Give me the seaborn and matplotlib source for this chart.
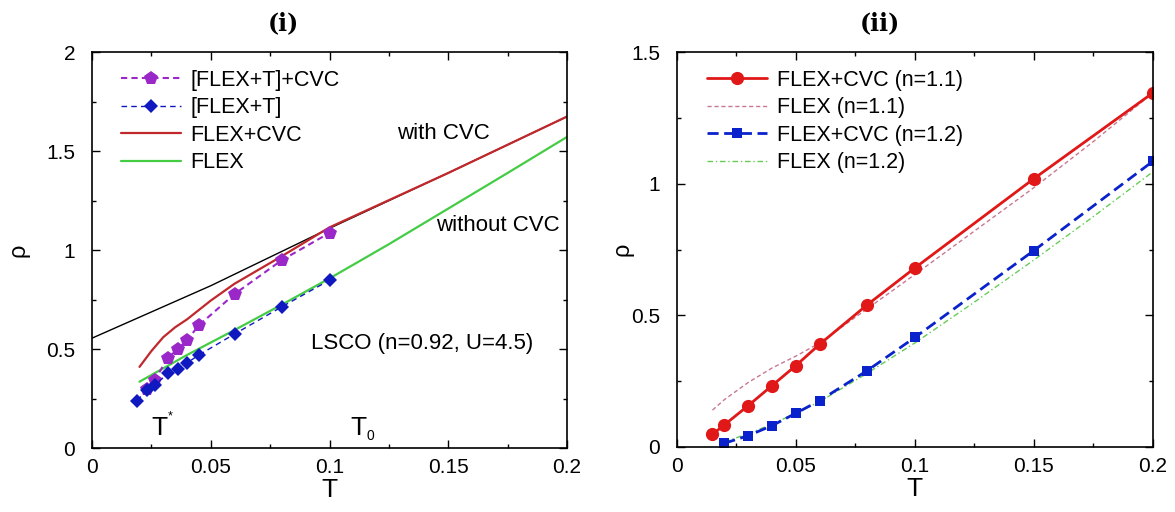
import numpy as np
import pandas as pd
import seaborn as sns
import matplotlib
matplotlib.use("Agg")
import matplotlib.pyplot as plt
from matplotlib.ticker import MultipleLocator

# ---------------- data: panel (i) ----------------
t_flexT_cvc = [0.023, 0.0265, 0.032, 0.036, 0.04, 0.045, 0.06, 0.08, 0.1]
rho_flexT_cvc = [0.30, 0.345, 0.456, 0.498, 0.545, 0.62, 0.778, 0.95, 1.087]

t_flexT = [0.019, 0.023, 0.0265, 0.032, 0.036, 0.04, 0.045, 0.06, 0.08, 0.1]
rho_flexT = [0.239, 0.293, 0.318, 0.377, 0.40, 0.43, 0.47, 0.576, 0.714, 0.848]

t_flex_cvc = [0.02, 0.025, 0.03, 0.035, 0.04, 0.05, 0.06, 0.08, 0.1, 0.12, 0.15, 0.2]
rho_flex_cvc = [0.41, 0.49, 0.56, 0.61, 0.65, 0.745, 0.83, 0.97, 1.115, 1.225, 1.39, 1.675]

t_flex = [0.02, 0.04, 0.06, 0.08, 0.1, 0.125, 0.15, 0.175, 0.2]
rho_flex = [0.335, 0.47, 0.596, 0.725, 0.857, 1.03, 1.21, 1.39, 1.572]

t_withcvc = [0.0, 0.05, 0.1, 0.15, 0.2]
rho_withcvc = [0.555, 0.82, 1.11, 1.39, 1.675]

# ---------------- data: panel (ii) ----------------
t_cvc11 = [0.015, 0.02, 0.03, 0.04, 0.05, 0.06, 0.08, 0.1, 0.15, 0.2]
rho_cvc11 = [0.048, 0.084, 0.157, 0.233, 0.309, 0.39, 0.54, 0.68, 1.019, 1.345]

t_flex11 = [0.015, 0.02, 0.03, 0.04, 0.05, 0.06, 0.08, 0.1, 0.125, 0.15, 0.175, 0.2]
rho_flex11 = [0.14, 0.18, 0.245, 0.30, 0.345, 0.395, 0.525, 0.655, 0.82, 0.985, 1.16, 1.345]

t_cvc12 = [0.02, 0.03, 0.04, 0.05, 0.06, 0.08, 0.1, 0.15, 0.2]
rho_cvc12 = [0.014, 0.043, 0.081, 0.128, 0.176, 0.29, 0.416, 0.746, 1.085]

t_flex12 = [0.02, 0.03, 0.04, 0.05, 0.06, 0.08, 0.1, 0.125, 0.15, 0.175, 0.2]
rho_flex12 = [0.02, 0.05, 0.087, 0.128, 0.172, 0.28, 0.395, 0.55, 0.71, 0.875, 1.045]

x_ticks = [0, 0.05, 0.1, 0.15, 0.2]
x_ticklabels = ['0', '0.05', '0.1', '0.15', '0.2']
y1_ticks = [0, 0.5, 1, 1.5, 2]
y1_ticklabels = ['0', '0.5', '1', '1.5', '2']
y2_ticks = [0, 0.5, 1, 1.5]
y2_ticklabels = ['0', '0.5', '1', '1.5']

sns.set_style("ticks")
plt.rcParams['font.family'] = ['Liberation Sans', 'DejaVu Sans']
plt.rcParams['text.color'] = 'black'
plt.rcParams['axes.labelcolor'] = 'black'

fig = plt.figure(figsize=(11.75, 5.12), dpi=100)
ax1 = fig.add_axes([0.0783, 0.125, 0.4043, 0.773])
ax2 = fig.add_axes([0.576, 0.127, 0.405, 0.771])

# panel (i)
sns.lineplot(x=t_withcvc, y=rho_withcvc, ax=ax1, color='black', lw=1.0, estimator=None, sort=False)
sns.lineplot(x=t_flex_cvc, y=rho_flex_cvc, ax=ax1, color='#c0282c', lw=1.6, estimator=None,
             label='FLEX+CVC')
sns.lineplot(x=t_flex, y=rho_flex, ax=ax1, color='#44cc44', lw=1.6, estimator=None,
             label='FLEX')
sns.lineplot(x=t_flexT_cvc, y=rho_flexT_cvc, ax=ax1, color='#9a28c8', lw=1.5, ls=(0, (3, 2)),
             marker='p', markersize=10, markeredgewidth=0, estimator=None, label='[FLEX+T]+CVC')
sns.lineplot(x=t_flexT, y=rho_flexT, ax=ax1, color='#1018c0', lw=1.0, ls=(0, (4, 3)),
             marker='D', markersize=7.5, markeredgewidth=0, estimator=None, label='[FLEX+T]')

leg_kw = dict(loc='upper left', frameon=False, fontsize=15.5, handlelength=2.8,
              handletextpad=0.45, labelspacing=0.3, borderpad=0.0, borderaxespad=0.0)

h, l = ax1.get_legend_handles_labels()
order = [l.index(s) for s in ['[FLEX+T]+CVC', '[FLEX+T]', 'FLEX+CVC', 'FLEX']]
ax1.legend([h[i] for i in order], [l[i] for i in order], bbox_to_anchor=(0.06, 0.955), **leg_kw)

ax1.set_xlim(0, 0.2)
ax1.set_ylim(0, 2)
ax1.set_xticks(x_ticks)
ax1.set_xticklabels(x_ticklabels)
ax1.xaxis.set_minor_locator(MultipleLocator(0.025))
ax1.set_yticks(y1_ticks)
ax1.set_yticklabels(y1_ticklabels)
ax1.yaxis.set_minor_locator(MultipleLocator(0.25))

ax1.text(0.148, 1.59, 'with CVC', fontsize=16, ha='center', va='center')
ax1.text(0.2 - 0.003, 1.126, 'without CVC', fontsize=16, ha='right', va='center')
ax1.text(0.092, 0.53, 'LSCO (n=0.92, U=4.5)', fontsize=16, ha='left', va='center')
ax1.text(0.0285, 0.1, 'T', fontsize=19, ha='center', va='center')
ax1.text(0.0328, 0.158, '*', fontsize=9, ha='center', va='center')
ax1.text(0.112, 0.1, 'T', fontsize=19, ha='center', va='center')
ax1.text(0.1172, 0.063, '0', fontsize=10, ha='center', va='center')

# panel (ii)
sns.lineplot(x=t_flex11, y=rho_flex11, ax=ax2, color='#c87890', lw=1.0, ls=(0, (3, 2)),
             estimator=None, label='FLEX (n=1.1)')
sns.lineplot(x=t_flex12, y=rho_flex12, ax=ax2, color='#66cc55', lw=1.0, ls=(0, (4, 2, 1, 2)),
             estimator=None, label='FLEX (n=1.2)')
sns.lineplot(x=t_cvc11, y=rho_cvc11, ax=ax2, color='#e01818', lw=2.0, marker='o', markersize=9.5,
             markeredgewidth=0, estimator=None, label='FLEX+CVC (n=1.1)')
sns.lineplot(x=t_cvc12, y=rho_cvc12, ax=ax2, color='#0a22cc', lw=2.0, ls=(0, (4, 2)), marker='s',
             markersize=7.5, markeredgewidth=0, estimator=None, label='FLEX+CVC (n=1.2)')

h, l = ax2.get_legend_handles_labels()
order = [l.index(s) for s in ['FLEX+CVC (n=1.1)', 'FLEX (n=1.1)', 'FLEX+CVC (n=1.2)', 'FLEX (n=1.2)']]
ax2.legend([h[i] for i in order], [l[i] for i in order], bbox_to_anchor=(0.063, 0.955), **leg_kw)

ax2.set_xlim(0, 0.2)
ax2.set_ylim(0, 1.5)
ax2.set_xticks(x_ticks)
ax2.set_xticklabels(x_ticklabels)
ax2.xaxis.set_minor_locator(MultipleLocator(0.025))
ax2.set_yticks(y2_ticks)
ax2.set_yticklabels(y2_ticklabels)
ax2.yaxis.set_minor_locator(MultipleLocator(0.25))

for ax in (ax1, ax2):
    for s in ax.spines.values():
        s.set_visible(True)
        s.set_linewidth(1.2)
        s.set_color('black')
    ax.tick_params(which='both', direction='in', top=True, right=True, labelsize=15,
                   colors='black')
    ax.tick_params(axis='x', pad=7)
    ax.tick_params(axis='y', pad=12)
    ax.tick_params(which='major', length=6, width=1.0)
    ax.tick_params(which='minor', length=3, width=1.0)
    ax.set_xlabel('T', fontsize=19, labelpad=1)

ax1.set_ylabel('ρ', fontsize=17, labelpad=12)
ax2.set_ylabel('ρ', fontsize=17, labelpad=-2)

fig.text(0.241, 0.955, '(i)', family='DejaVu Serif', fontweight='bold', fontsize=17,
         ha='center', va='center')
fig.text(0.749, 0.955, '(ii)', family='DejaVu Serif', fontweight='bold', fontsize=17,
         ha='center', va='center')

fig.savefig('out.png', dpi=100, facecolor='white')
